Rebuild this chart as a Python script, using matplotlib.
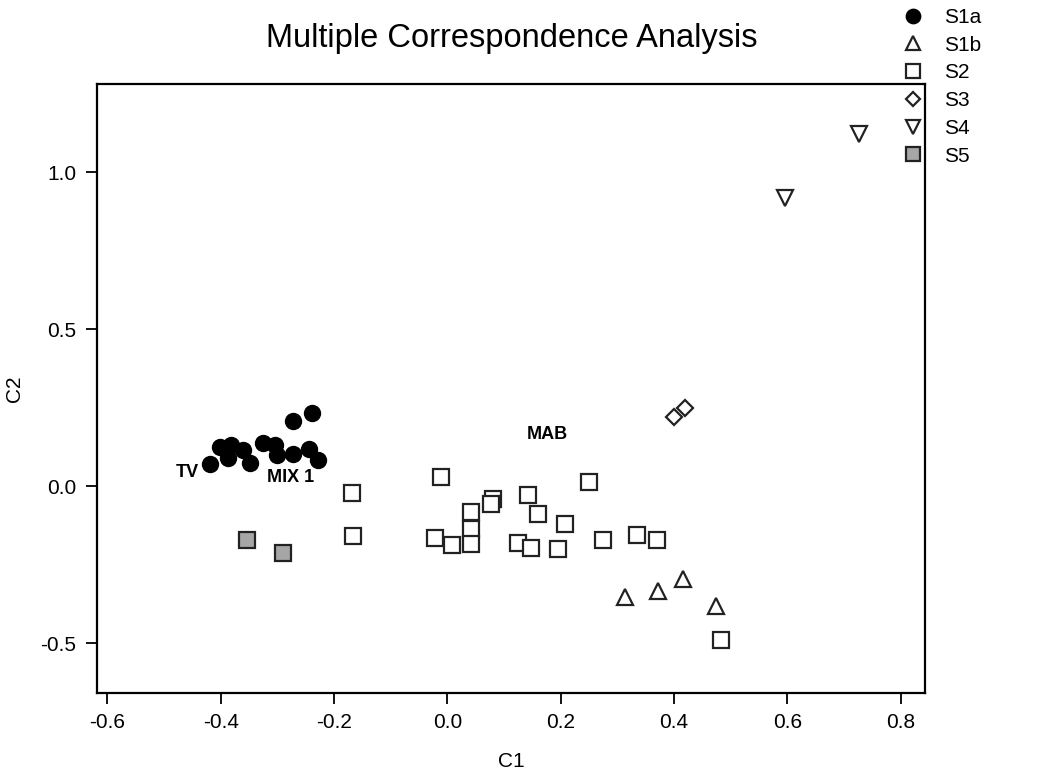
import numpy as np
import matplotlib.pyplot as plt

plt.rcParams['font.family'] = ['Liberation Sans', 'DejaVu Sans']

# Category coordinates
s1a_x = [-0.419, -0.402, -0.387, -0.381, -0.360, -0.348, -0.325, -0.304,
         -0.301, -0.272, -0.272, -0.238, -0.244, -0.228]
s1a_y = [0.071, 0.124, 0.089, 0.131, 0.115, 0.073, 0.137, 0.131,
         0.099, 0.103, 0.206, 0.234, 0.118, 0.083]

s1b_x = [0.313, 0.372, 0.416, 0.474]
s1b_y = [-0.352, -0.333, -0.296, -0.381]

s2_x = [-0.169, -0.166, -0.021, 0.008, -0.012, 0.250, 0.081, 0.077, 0.142,
        0.042, 0.159, 0.207, 0.041, 0.041, 0.125, 0.147, 0.195, 0.274,
        0.334, 0.370, 0.482]
s2_y = [-0.023, -0.159, -0.164, -0.187, 0.028, 0.012, -0.042, -0.057, -0.028,
        -0.081, -0.089, -0.120, -0.136, -0.184, -0.180, -0.198, -0.200,
        -0.171, -0.155, -0.171, -0.490]

s3_x = [0.399, 0.419]
s3_y = [0.219, 0.250]

s4_x = [0.726, 0.596]
s4_y = [1.122, 0.917]

s5_x = [-0.354, -0.290]
s5_y = [-0.171, -0.214]

# Point labels
labels = ['TV', 'MIX 1', 'MAB']
label_x = [-0.458, -0.276, 0.177]
label_y = [0.042, 0.026, 0.163]

fig = plt.figure(figsize=(10.41, 7.71), dpi=100)
ax = fig.add_axes([0.0935, 0.1016, 0.7955, 0.7894])

ew = 1.6
ax.plot(s1a_x, s1a_y, 'o', ms=11.5, mfc='black', mec='black', label='S1a')
ax.plot(s1b_x, s1b_y, '^', ms=11, mfc='white', mec='#222222', mew=ew, label='S1b')
ax.plot(s2_x, s2_y, 's', ms=11, mfc='white', mec='#222222', mew=ew, label='S2')
ax.plot(s3_x, s3_y, 'D', ms=8, mfc='white', mec='#222222', mew=ew, label='S3')
ax.plot(s4_x, s4_y, 'v', ms=11, mfc='white', mec='#222222', mew=ew, label='S4')
ax.plot(s5_x, s5_y, 's', ms=11, mfc='#a6a6a6', mec='#222222', mew=ew, label='S5')

for t, x, y in zip(labels, label_x, label_y):
    ax.text(x, y, t, fontsize=13, fontweight='bold', ha='center', va='center')

ax.set_xlim(-0.6176, 0.8434)
ax.set_ylim(-0.658, 1.281)
ax.set_xticks(np.arange(-0.6, 0.81, 0.2))
ax.set_yticks([-0.5, 0.0, 0.5, 1.0])
ax.xaxis.set_major_formatter(plt.FormatStrFormatter('%.1f'))
ax.yaxis.set_major_formatter(plt.FormatStrFormatter('%.1f'))
ax.tick_params(direction='out', length=8, width=1.3, labelsize=15, pad=7)
for sp in ax.spines.values():
    sp.set_linewidth(1.6)

ax.set_xlabel('C1', fontsize=15, labelpad=14)
ax.set_ylabel('C2', fontsize=15, labelpad=12)
fig.suptitle('Multiple Correspondence Analysis', fontsize=23.5, x=0.4915, y=0.97)

fig.legend(loc='upper left', bbox_to_anchor=(0.839, 1.014), frameon=False,
           fontsize=15, handletextpad=0.5, labelspacing=0.42, numpoints=1,
           markerscale=0.9)

fig.savefig('out.png', dpi=100)
